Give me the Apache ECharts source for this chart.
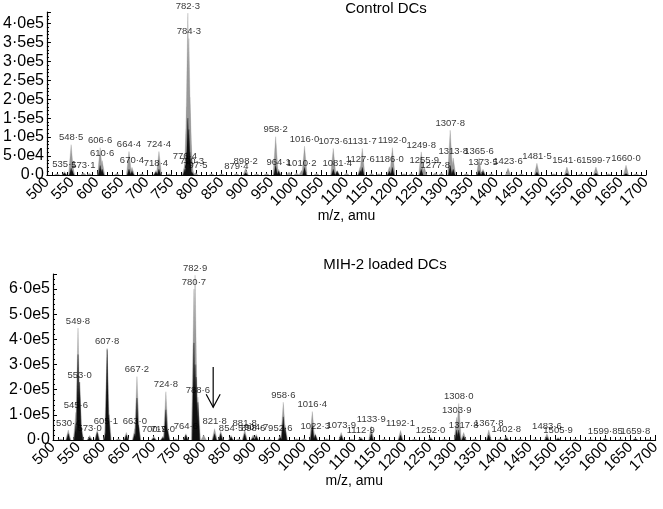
<!DOCTYPE html>
<html><head><meta charset="utf-8">
<script src="https://cdn.jsdelivr.net/npm/echarts@6/dist/echarts.min.js"></script>
<style>html,body{margin:0;padding:0;background:#fff}#c{width:663px;height:509px}</style>
</head><body><div id="c"></div>
<script>
// ---------- DATA ----------
const xTickLabels = [500,550,600,650,700,750,800,850,900,950,1000,1050,1100,1150,1200,1250,1300,1350,1400,1450,1500,1550,1600,1650,1700];
const controlTitle = 'Control DCs';
const mihTitle = 'MIH-2 loaded DCs';
const xAxisName = 'm/z, amu';

// Control DCs: [m/z, intensity, label]
const controlGrey = [
  [520,3e3,''],[535.1,9e3,'535·1'],[548.5,80e3,'548·5'],[550.5,30e3,''],[573.1,6e3,'573·1'],[585,4e3,''],
  [606.6,72e3,'606·6'],[610.6,38e3,'610·6'],[640,4e3,''],[664.4,62e3,'664·4'],[670.4,20e3,'670·4'],[690,3e3,''],
  [718.4,12e3,'718·4'],[724.4,62e3,'724·4'],[745,3e3,''],[776.4,30e3,'776·4'],[780.3,180e3,''],
  [782.3,427e3,'782·3'],[784.3,360e3,'784·3'],[786.3,205e3,''],[788.3,80e3,''],[790.3,18e3,'790·3'],
  [797.5,6e3,'797·5'],[830,3e3,''],[850,3e3,''],[879.4,4e3,'879·4'],[898.2,18e3,'898·2'],[920,3e3,''],
  [940,4e3,''],[958.2,101e3,'958·2'],[964.1,15e3,'964·1'],[985,8e3,''],[1000,5e3,''],[1010.2,12e3,'1010·2'],
  [1016.0,76e3,'1016·0'],[1040,4e3,''],[1073.6,70e3,'1073·6'],[1081.4,12e3,'1081·4'],[1100,5e3,''],
  [1127.6,22e3,'1127·6'],[1131.7,70e3,'1131·7'],[1150,4e3,''],[1165,3e3,''],[1186.0,22e3,'1186·0'],
  [1192.0,72e3,'1192·0'],[1215,3e3,''],[1230,4e3,''],[1249.8,61e3,'1249·8'],[1255.9,20e3,'1255·9'],
  [1277.8,6e3,'1277·8'],[1290,5e3,''],[1307.8,118e3,'1307·8'],[1313.8,45e3,'1313·8'],[1340,4e3,''],
  [1365.6,45e3,'1365·6'],[1373.5,15e3,'1373·5'],[1390,3e3,''],[1423.6,18e3,'1423·6'],[1450,3e3,''],
  [1481.5,31e3,'1481·5'],[1515,3e3,''],[1541.6,21e3,'1541·6'],[1570,3e3,''],[1599.7,21e3,'1599·7'],
  [1625,3e3,''],[1660.0,26e3,'1660·0'],[1680,3e3,'']
];
const controlBlack = [
  [535.1,5e3],[548.5,18e3],[550.5,12e3],[606.6,25e3],[610.6,15e3],[664.4,15e3],[670.4,10e3],[718.4,8e3],
  [724.4,15e3],[776.4,15e3],[780.3,60e3],[782.3,150e3],[784.3,120e3],[786.3,60e3],[790.3,8e3],[898.2,6e3],
  [958.2,25e3],[964.1,10e3],[1016.0,20e3],[1073.6,15e3],[1081.4,10e3],[1127.6,12e3],[1131.7,20e3],
  [1192.0,20e3],[1186.0,10e3],[1249.8,15e3],[1307.8,25e3],[1313.8,15e3],[1365.6,12e3],[1373.5,10e3],
  [1481.5,8e3],[1541.6,5e3],[1599.7,5e3],[1660.0,4e3]
];

// MIH-2 loaded DCs: [m/z, intensity, label]
const mihGrey = [
  [515,4e3,''],[530.4,40e3,'530·4'],[545.6,110e3,'545·6'],[549.8,445e3,'549·8'],[553.0,230e3,'553·0'],
  [556,60e3,''],[573.0,18e3,'573·0'],[588,40e3,''],[605.1,45e3,'605·1'],[607.8,365e3,'607·8'],[611,120e3,''],
  [630,5e3,''],[646,30e3,''],[663.0,45e3,'663·0'],[667.2,252e3,'667·2'],[670,70e3,''],[700.7,15e3,'700·7'],
  [719.0,15e3,'719·0'],[724.8,192e3,'724·8'],[728,50e3,''],[745,5e3,''],[764.6,25e3,'764·6'],
  [780.7,600e3,'780·7'],[782.9,655e3,'782·9'],[785,300e3,''],[788.6,170e3,'788·6'],[800,20e3,''],
  [821.8,45e3,'821·8'],[834,35e3,''],[854.5,18e3,'854·5'],[870,5e3,''],[881.8,40e3,'881·8'],
  [898.6,20e3,'898·6'],[904.7,22e3,'904·7'],[930,5e3,''],[952.6,18e3,'952·6'],[958.6,150e3,'958·6'],
  [962,60e3,''],[985,5e3,''],[1000,6e3,''],[1016.4,113e3,'1016·4'],[1022.3,25e3,'1022·3'],[1045,5e3,''],
  [1073.9,30e3,'1073·9'],[1095,4e3,''],[1112.9,12e3,'1112·9'],[1133.9,55e3,'1133·9'],[1160,4e3,''],
  [1192.1,38e3,'1192·1'],[1220,4e3,''],[1252.0,12e3,'1252·0'],[1280,4e3,''],[1303.9,90e3,'1303·9'],
  [1308.0,145e3,'1308·0'],[1317.8,30e3,'1317·8'],[1340,4e3,''],[1367.8,40e3,'1367·8'],[1390,5e3,''],
  [1402.8,15e3,'1402·8'],[1430,4e3,''],[1460,3e3,''],[1483.6,25e3,'1483·6'],[1505.9,10e3,'1505·9'],
  [1540,4e3,''],[1570,3e3,''],[1599.85,8e3,'1599·85'],[1630,3e3,''],[1659.8,8e3,'1659·8'],[1685,3e3,'']
];
const mihBlack = [
  [530.4,25e3],[545.6,60e3],[549.8,340e3],[553.0,230e3],[556,50e3],[573.0,10e3],[588,30e3],[605.1,25e3],
  [607.8,360e3],[611,100e3],[646,20e3],[663.0,25e3],[667.2,167e3],[670,60e3],[700.7,8e3],[719.0,10e3],
  [724.8,120e3],[728,40e3],[764.6,20e3],[780.7,386e3],[782.9,300e3],[785,250e3],[788.6,150e3],
  [821.8,25e3],[834,25e3],[854.5,12e3],[881.8,25e3],[898.6,10e3],[904.7,15e3],[952.6,10e3],[958.6,92e3],
  [962,50e3],[1016.4,60e3],[1022.3,20e3],[1073.9,18e3],[1112.9,6e3],[1133.9,25e3],[1192.1,20e3],
  [1252.0,6e3],[1303.9,40e3],[1308.0,40e3],[1317.8,15e3],[1367.8,20e3],[1402.8,8e3],[1483.6,12e3],
  [1505.9,5e3],[1599.85,4e3],[1659.8,4e3]
];

// arrow in MIH-2 panel: [m/z, from intensity, to intensity]
const arrowMarks = [[819, 2.9e5, 1.3e5]];

// ---------- CHART ----------
const GREY = '#9a9a9a', BLACK = '#111';
const FONT = '"Liberation Sans", Arial, Helvetica, sans-serif';

function sci(v){
  if (v === 0) return '0·0';
  const e = Math.floor(Math.log10(v) + 1e-9);
  const m = v / Math.pow(10, e);
  return m.toFixed(1).replace('.', '·') + 'e' + e;
}
function spike(hw, color){
  return function(params, api){
    const m = api.value(0), h = api.value(1);
    const b = api.coord([m, 0]), t = api.coord([m, h]);
    return {type:'polygon', shape:{points:[[b[0]-hw,b[1]],[t[0],t[1]],[b[0]+hw,b[1]]]},
            style:{fill:color, stroke:color, lineWidth:0.3}};
  };
}
function labelData(arr){
  return arr.filter(d => d[2]).map(d => ({value:[d[0], d[1]], name:d[2]}));
}
function xAxisCfg(gi, gap){
  return {
    type:'value', gridIndex:gi, min:500, max:1700, interval:50,
    name:xAxisName, nameLocation:'middle', nameGap:gap, nameMoveOverlap:false,
    nameTextStyle:{fontFamily:FONT, fontSize:14, color:'#000'},
    axisLine:{lineStyle:{color:'#000', width:1.2}},
    axisTick:{inside:true, length:5, lineStyle:{color:'#000'}},
    minorTick:{show:true, splitNumber:5, length:3, lineStyle:{color:'#000'}},
    splitLine:{show:false},
    axisLabel:{rotate:45, fontFamily:FONT, fontSize:15, color:'#000', margin:5,
      formatter: v => xTickLabels.includes(v) ? String(v) : ''}
  };
}
function yAxisCfg(gi, max, interval){
  return {
    type:'value', gridIndex:gi, min:0, max:max, interval:interval,
    axisLine:{show:true, lineStyle:{color:'#000', width:1.2}},
    axisTick:{show:true, inside:true, length:4, lineStyle:{color:'#000'}},
    minorTick:{show:true, splitNumber:5, length:2, lineStyle:{color:'#000'}},
    splitLine:{show:false},
    axisLabel:{fontFamily:FONT, fontSize:16, color:'#000', margin:3, showMaxLabel:false,
      formatter: v => sci(v)}
  };
}
function panel(gi, grey, black){
  return [
    {type:'custom', xAxisIndex:gi, yAxisIndex:gi, renderItem:spike(2.6, GREY), data:grey.map(d=>[d[0],d[1]]), clip:true, z:2},
    {type:'custom', xAxisIndex:gi, yAxisIndex:gi, renderItem:spike(1.8, BLACK), data:black, clip:true, z:3},
    {type:'scatter', xAxisIndex:gi, yAxisIndex:gi, symbolSize:0, data:labelData(grey), z:5, silent:true,
      label:{show:true, position:'top', distance:2, formatter:'{b}', fontFamily:FONT, fontSize:9.5, color:'#000'}}
  ];
}

const chart = echarts.init(document.getElementById('c'), null, {renderer:'canvas'});
chart.setOption({
  animation:false,
  backgroundColor:'#fff',
  grid:[
    {left:44, right:17, top:12, height:163},
    {left:53, right:7, top:274, height:166}
  ],
  xAxis:[xAxisCfg(0, 34), xAxisCfg(1, 34)],
  yAxis:[yAxisCfg(0, 4.3e5, 0.5e5), yAxisCfg(1, 6.6e5, 1e5)],
  graphic:[
    {type:'text', x:386, y:9, style:{text:controlTitle, align:'center', verticalAlign:'middle', font:'15px '+FONT, fill:'#000'}},
    {type:'text', x:385, y:265, style:{text:mihTitle, align:'center', verticalAlign:'middle', font:'15px '+FONT, fill:'#000'}}
  ],
  series:[
    ...panel(0, controlGrey, controlBlack),
    ...panel(1, mihGrey, mihBlack),
    {type:'custom', xAxisIndex:1, yAxisIndex:1, data:arrowMarks, z:6, silent:true,
      renderItem:function(params, api){
        const m = api.value(0);
        const a = api.coord([m, api.value(1)]), b = api.coord([m, api.value(2)]);
        return {type:'group', children:[
          {type:'line', shape:{x1:a[0], y1:a[1], x2:b[0], y2:b[1]}, style:{stroke:'#000', lineWidth:1.2}},
          {type:'polyline', shape:{points:[[b[0]-7,b[1]-13],[b[0],b[1]],[b[0]+7,b[1]-13]]}, style:{stroke:'#000', lineWidth:1.2, fill:null}}
        ]};
      }}
  ]
});
</script>
</body></html>
